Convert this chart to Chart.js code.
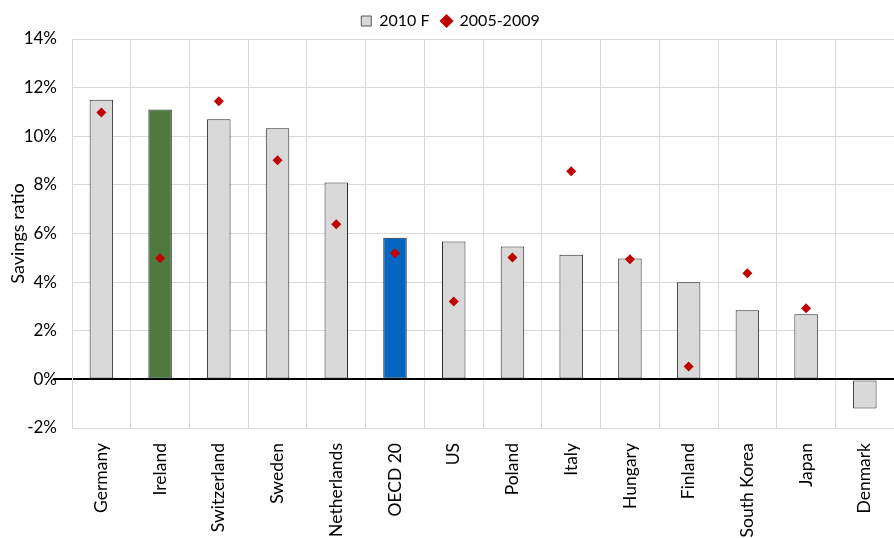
<!DOCTYPE html>
<html>
<head>
<meta charset="utf-8">
<script src="https://cdn.jsdelivr.net/npm/chart.js@4.4.0/dist/chart.umd.min.js"></script>
<style>
  html, body { margin: 0; padding: 0; background: #fff; overflow: hidden; }
  #wrap { width: 901px; height: 538px; position: relative; }
</style>
</head>
<body>
<div id="wrap"><canvas id="chart"></canvas></div>
<script>
// Chart data
const countries = ['Germany', 'Ireland', 'Switzerland', 'Sweden', 'Netherlands', 'OECD 20', 'US',
  'Poland', 'Italy', 'Hungary', 'Finland', 'South Korea', 'Japan', 'Denmark'];
const forecast2010 = [11.5, 11.1, 10.7, 10.33, 8.1, 5.83, 5.67, 5.47, 5.13, 4.97, 3.99, 2.84, 2.68, -1.2];
const avg2005to2009 = [10.98, 4.98, 11.44, 9.01, 6.38, 5.19, 3.2, 5.01, 8.56, 4.94, 0.53, 4.36, 2.93, null];
const yTicks = [-2, 0, 2, 4, 6, 8, 10, 12, 14];

// Highlight colours
const barColors = countries.map(function(c) {
  if (c === 'Ireland') return '#4e7a3f';
  if (c === 'OECD 20') return '#0565c0';
  return '#d9d9d9';
});

const fontFamily = 'Lato, "Open Sans", sans-serif';

new Chart(document.getElementById('chart'), {
  data: {
    labels: countries,
    datasets: [{
      type: 'bar',
      label: '2010 F',
      data: forecast2010,
      backgroundColor: barColors,
      borderColor: '#2a2a2a',
      borderWidth: 1,
      borderSkipped: false,
      categoryPercentage: 1,
      barPercentage: 0.4,
      pointStyle: 'rect',
      order: 2
    }, {
      type: 'line',
      label: '2005-2009',
      data: avg2005to2009,
      showLine: false,
      pointStyle: 'rectRot',
      pointRadius: 5,
      pointBackgroundColor: '#c00000',
      pointBorderColor: '#c00000',
      pointBorderWidth: 0,
      backgroundColor: '#c00000',
      borderColor: '#c00000',
      order: 1
    }]
  },
  options: {
    responsive: true,
    maintainAspectRatio: false,
    animation: false,
    layout: { padding: { left: 0, right: 0, top: 1, bottom: 0 } },
    plugins: {
      legend: {
        position: 'top',
        labels: {
          usePointStyle: true,
          boxWidth: 10,
          boxHeight: 10,
          padding: 12,
          color: '#000',
          font: { family: fontFamily, size: 16 },
          generateLabels: function(chart) {
            return [{
              text: '2010 F', datasetIndex: 0, pointStyle: 'rect',
              fillStyle: '#d9d9d9', strokeStyle: '#555', lineWidth: 1, fontColor: '#000'
            }, {
              text: '2005-2009', datasetIndex: 1, pointStyle: 'rectRot',
              fillStyle: '#c00000', strokeStyle: '#c00000', lineWidth: 0, fontColor: '#000'
            }];
          }
        }
      },
      tooltip: { enabled: false }
    },
    scales: {
      x: {
        offset: true,
        afterFit: function(axis) { axis.height = 110; },
        grid: {
          offset: true,
          color: '#d9d9d9',
          tickLength: 0
        },
        border: { color: '#d9d9d9' },
        ticks: {
          minRotation: 90,
          maxRotation: 90,
          autoSkip: false,
          padding: 15,
          color: '#000',
          font: { family: fontFamily, size: 17.5 }
        }
      },
      y: {
        min: -2,
        max: 14,
        afterFit: function(axis) { axis.width = 72; },
        afterBuildTicks: function(axis) {
          axis.ticks = yTicks.map(function(v) { return { value: v }; });
        },
        grid: {
          color: function(ctx) { return ctx.tick && ctx.tick.value === 0 ? '#000' : '#d9d9d9'; },
          tickColor: function(ctx) { return ctx.tick && ctx.tick.value === 0 ? '#000' : 'rgba(0,0,0,0)'; },
          lineWidth: function(ctx) { return ctx.tick && ctx.tick.value === 0 ? 2 : 1; },
          tickLength: 19
        },
        border: { color: '#d9d9d9' },
        title: {
          display: true,
          text: 'Savings ratio',
          color: '#000',
          padding: { top: 7, bottom: 0 },
          font: { family: fontFamily, size: 18 }
        },
        ticks: {
          padding: -4,
          color: '#000',
          font: { family: fontFamily, size: 17 },
          callback: function(v) { return v + '%'; }
        }
      }
    }
  }
});
</script>
</body>
</html>
